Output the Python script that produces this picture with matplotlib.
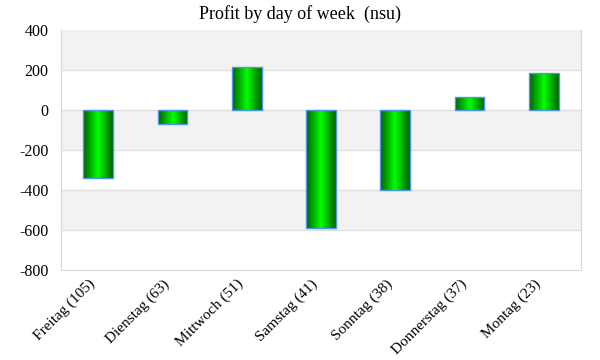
import numpy as np
import matplotlib.pyplot as plt
import matplotlib.transforms as mtransforms
from matplotlib.colors import LinearSegmentedColormap

days = ['Freitag (105)', 'Dienstag (63)', 'Mittwoch (51)', 'Samstag (41)',
        'Sonntag (38)', 'Donnerstag (37)', 'Montag (23)']
profit = [-340, -70, 215, -590, -400, 65, 185]

plt.rcParams['font.family'] = ['Liberation Serif', 'DejaVu Serif']
plt.rcParams['axes.unicode_minus'] = False

fig = plt.figure(figsize=(6, 3.6), dpi=100)
ax = fig.add_axes([61 / 600, 1 - 270 / 360, 520 / 600, 240 / 360])

x = np.arange(len(days))
bars = ax.bar(x, profit, width=0.4, color='none', edgecolor='#4f94e8', linewidth=1.0, zorder=3)

# горизонтальный градиент внутри столбцов
cmap = LinearSegmentedColormap.from_list('g', ['#005f00', '#00ff00', '#005f00'])
grad = np.linspace(0, 1, 256).reshape(1, -1)
for b in bars:
    x0, y0 = b.get_x(), b.get_y()
    w, h = b.get_width(), b.get_height()
    im = ax.imshow(grad, cmap=cmap, aspect='auto', extent=[x0, x0 + w, y0, y0 + h],
                   zorder=2, interpolation='bicubic')
    im.set_clip_path(b)

# чередующиеся полосы фона
for lo in [200, -200, -600]:
    ax.axhspan(lo, lo + 200, color='#f2f2f2', zorder=0, lw=0)
for yv in range(-600, 400, 200):
    ax.axhline(yv, color='#dedede', lw=1, zorder=1)

ax.set_xlim(-0.5, len(days) - 0.5)
ax.set_ylim(-800, 400)
ax.set_yticks(range(-800, 401, 200))
ax.set_xticks(x)
ax.set_xticklabels(days, rotation=45, ha='right', rotation_mode='anchor', fontsize=11)
ax.tick_params(axis='y', labelsize=11.5, length=0, pad=9)
ax.tick_params(axis='x', length=0, pad=5)
shift = mtransforms.ScaledTranslation(-0.1, 0, fig.dpi_scale_trans)
for lbl in ax.get_xticklabels():
    lbl.set_transform(lbl.get_transform() + shift)
for s in ax.spines.values():
    s.set_color('#d9d9d9')
ax.spines['top'].set_visible(False)

fig.suptitle('Profit by day of week  (nsu)', y=0.985, fontsize=13)
fig.savefig('out.png', dpi=100)
